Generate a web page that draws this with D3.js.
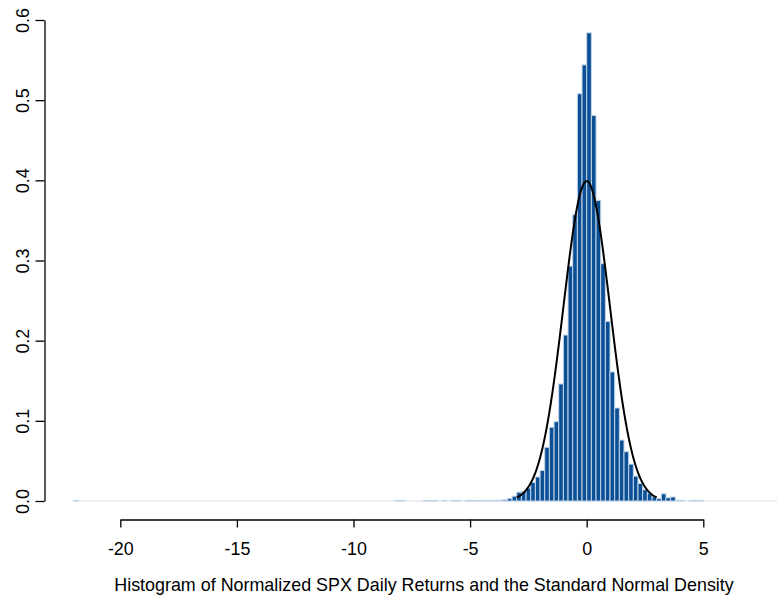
<!DOCTYPE html>
<html>
<head>
<meta charset="utf-8">
<script src="https://cdn.jsdelivr.net/npm/d3@7"></script>
<style>
  body { margin: 0; background: #fff; }
  text { font-family: "Liberation Sans", Arial, Helvetica, sans-serif; }
</style>
</head>
<body>
<div id="chart"></div>
<script>
// Histogram settings (bin width 0.2)
var binWidth = 0.2;
var breakRange = [-22.2, 8.4];

// Core of the histogram: densities of bins starting at coreStart
var coreStart = -3.4;
var coreDensity = [0.003, 0.006, 0.011, 0.012, 0.016, 0.023, 0.030, 0.038, 0.067, 0.092,
                   0.099, 0.146, 0.207, 0.293, 0.357, 0.508, 0.544, 0.584, 0.481, 0.375,
                   0.296, 0.224, 0.161, 0.116, 0.076, 0.0615, 0.046, 0.031, 0.022, 0.014,
                   0.0096, 0.005, 0.003, 0.009, 0.004, 0.005, 0.001];

// Sparse tail bins (bin start, density)
var tailStarts = [-22.0, -8.2, -8.0, -7.0, -6.8, -6.6, -6.2, -5.8, -5.6, -5.2, -5.0, -4.8, -4.6,
                  -4.4, -4.2, -4.0, -3.8, -3.6, 4.0, 4.4, 4.6, 4.8];
var tailDensity = [0.0006, 0.0004, 0.0004, 0.0004, 0.0004, 0.0004, 0.0004, 0.0004, 0.0004, 0.0004,
                   0.0004, 0.0004, 0.0004, 0.0006, 0.0006, 0.0008, 0.001, 0.0015, 0.0008, 0.0006,
                   0.0004, 0.0004];

var xTicks = [-20, -15, -10, -5, 0, 5];
var yTicks = [0, 0.1, 0.2, 0.3, 0.4, 0.5, 0.6];
var curveRange = [-3, 3];
var title = "Histogram of Normalized SPX Daily Returns and the Standard Normal Density";

var svgWidth = 777;
var svgHeight = 599;
var fontSize = "17.9px";

var svg = d3.select("#chart")
    .append("svg")
    .attr("width", svgWidth)
    .attr("height", svgHeight);

// scales (pixel positions of -20..5 and 0..0.6)
var xScale = d3.scaleLinear().domain([-20, 5]).range([120.3, 703.3]);
var yScale = d3.scaleLinear().domain([0, 0.6]).range([501, 20]);

// build the bins
var densityByBin = new Map();
coreDensity.forEach(function (d, i) {
    densityByBin.set(Math.round((coreStart + i * binWidth) * 10), d);
});
tailStarts.forEach(function (s, i) {
    densityByBin.set(Math.round(s * 10), tailDensity[i]);
});
var nBins = Math.round((breakRange[1] - breakRange[0]) / binWidth);
var bins = d3.range(nBins).map(function (i) {
    var x0 = breakRange[0] + i * binWidth;
    var key = Math.round(x0 * 10);
    return { x0: x0, x1: x0 + binWidth, density: densityByBin.get(key) || 0 };
});

// empty bins show up as their border along the baseline
svg.append("line")
    .attr("x1", xScale(breakRange[0] + binWidth))
    .attr("x2", xScale(breakRange[1]))
    .attr("y1", yScale(0))
    .attr("y2", yScale(0))
    .attr("stroke", "#d3deeb")
    .attr("stroke-width", 1.2);

// bars
svg.append("g")
    .selectAll("rect")
    .data(bins.filter(d => d.density > 0))
    .enter()
    .append("rect")
    .attr("x", d => xScale(d.x0))
    .attr("y", d => yScale(d.density))
    .attr("width", d => xScale(d.x1) - xScale(d.x0))
    .attr("height", d => yScale(0) - yScale(d.density))
    .attr("fill", "#0b4f94")
    .attr("stroke", "#c3d5ea")
    .attr("stroke-width", 1);

// standard normal density
var curvePts = d3.range(curveRange[0], curveRange[1] + 0.0001, 0.02);
var line = d3.line()
    .x(d => xScale(d))
    .y(d => yScale(Math.exp(-d * d / 2) / Math.sqrt(2 * Math.PI)));
svg.append("path")
    .datum(curvePts)
    .attr("d", line)
    .attr("fill", "none")
    .attr("stroke", "#000")
    .attr("stroke-width", 2);

// x axis
var bottomAxis = d3.axisBottom(xScale)
    .tickValues(xTicks)
    .tickSize(8)
    .tickSizeOuter(0)
    .tickPadding(15)
    .tickFormat(d => String(d));
var xAxisG = svg.append("g")
    .attr("transform", "translate(0, 519.5)")
    .call(bottomAxis);
xAxisG.select(".domain").attr("stroke", "#000").attr("stroke-width", 1.3);
xAxisG.selectAll(".tick line").attr("stroke", "#000").attr("stroke-width", 1.3);
xAxisG.selectAll(".tick text")
    .attr("font-size", fontSize)
    .attr("font-family", "Liberation Sans, Arial, sans-serif")
    .attr("fill", "#000");

// y axis
var leftAxis = d3.axisLeft(yScale)
    .tickValues(yTicks)
    .tickSize(9)
    .tickSizeOuter(0)
    .tickFormat(d3.format(".1f"));
var yAxisG = svg.append("g")
    .attr("transform", "translate(44.5, 0)")
    .call(leftAxis);
yAxisG.select(".domain").attr("stroke", "#000").attr("stroke-width", 1.3);
yAxisG.selectAll(".tick line").attr("stroke", "#000").attr("stroke-width", 1.3);
yAxisG.selectAll(".tick text")
    .attr("font-size", fontSize)
    .attr("font-family", "Liberation Sans, Arial, sans-serif")
    .attr("fill", "#000")
    .attr("x", 0)
    .attr("dy", 0)
    .attr("text-anchor", "middle")
    .attr("transform", "translate(-16, 0) rotate(-90)");

// title under the axis
svg.append("text")
    .attr("x", 424)
    .attr("y", 591)
    .attr("text-anchor", "middle")
    .attr("font-size", fontSize)
    .attr("fill", "#000")
    .text(title);
</script>
</body>
</html>
